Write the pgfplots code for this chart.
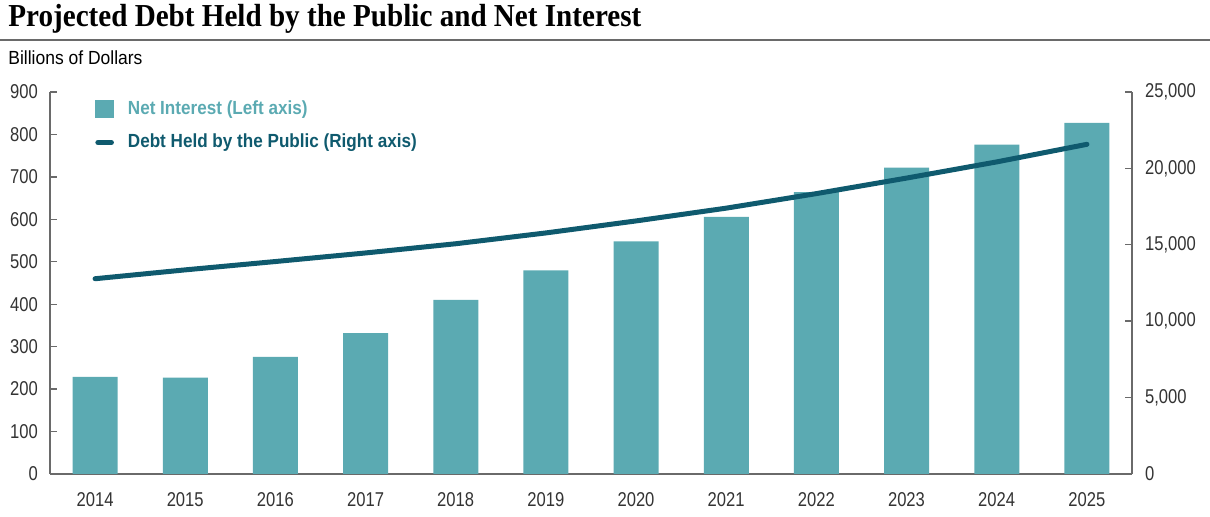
\documentclass[border=0pt]{standalone}
\usepackage{fontspec}
\setmainfont{Liberation Sans}[FakeStretch=0.92]
\newfontfamily\titlefont{Liberation Serif}[FakeStretch=0.91]
\newfontfamily\legfont{Liberation Sans}[FakeStretch=0.9]
\newfontfamily\tickfont{Liberation Sans}[FakeStretch=0.83]
\usepackage{pgfplots}
\pgfplotsset{compat=1.18}
\definecolor{barcol}{HTML}{5BAAB2}
\definecolor{linecol}{HTML}{0F5A6E}
\definecolor{axcol}{HTML}{6A6A6A}
\definecolor{labcol}{HTML}{333333}

\begin{document}
\begin{tikzpicture}
\path[use as bounding box] (0,0) rectangle (605pt,258.5pt);

% title and rule
\node[anchor=base west, inner sep=0pt] at (4pt,245pt)
  {\titlefont\bfseries\fontsize{16}{18}\selectfont Projected Debt Held by the Public and Net Interest};
\draw[axcol, line width=1pt] (0pt,238.3pt) -- (605pt,238.3pt);
\node[anchor=base west, inner sep=0pt, text=black] at (4pt,226pt)
  {\fontsize{9.5}{10}\selectfont Billions of Dollars};

\pgfplotsset{
  every axis/.append style={
    width=541pt, height=191pt, scale only axis,
    at={(25pt,21.5pt)}, anchor=south west,
    xmin=2013.5, xmax=2025.5,
    axis line style={axcol, line width=0.7pt, -},
    tick style={axcol, line width=0.7pt},
    tick align=inside, major tick length=3.6pt,
    tick label style={text=labcol, font=\tickfont\fontsize{10}{10}\selectfont},
    /pgf/number format/assume math mode=true,
  }
}

% left axis: net interest bars
\begin{axis}[
  axis x line*=bottom, axis y line*=left,
  ymin=0, ymax=900, ytick={0,100,...,900},
  xtick={2014,...,2025},
  xticklabel={\pgfmathprintnumber[1000 sep={}]{\tick}},
  xtick style={draw=none},
  xticklabel style={yshift=-5.5pt},
  yticklabel style={xshift=-2.5pt},
]
\addplot[ybar, bar width=22.5pt, fill=barcol, draw=none] coordinates {
  (2014,229) (2015,227) (2016,276) (2017,332) (2018,410) (2019,480)
  (2020,548) (2021,606) (2022,664) (2023,722) (2024,776) (2025,827)
};
\end{axis}

% right axis: debt held by the public
\begin{axis}[
  axis x line=none, axis y line*=right,
  ymin=0, ymax=25000, ytick={0,5000,...,25000},
  scaled y ticks=false,
  yticklabel={\pgfmathprintnumber[1000 sep={,}]{\tick}},
  yticklabel style={xshift=3pt},
  legend cell align=left,
  legend style={draw=none, fill=none, at={(0.036,1.0)}, anchor=north west,
    row sep=4.5pt, column sep=5pt, font=\legfont\bfseries\fontsize{9.5}{10}\selectfont},
]
\addlegendimage{legend image code/.code={\fill[barcol] (0pt,-4.3pt) rectangle (8.8pt,4.3pt);}}
\addlegendentry[text=barcol]{Net Interest (Left axis)}
\addplot[linecol, line width=2.5pt, line cap=round,
  legend image code/.code={\draw[linecol, line width=2.5pt, line cap=round] (1pt,0pt) -- (7.8pt,0pt);}]
  coordinates {
  (2014,12779) (2015,13359) (2016,13905) (2017,14466) (2018,15068) (2019,15776)
  (2020,16562) (2021,17398) (2022,18350) (2023,19366) (2024,20425) (2025,21575)
};
\addlegendentry[text=linecol]{Debt Held by the Public (Right axis)}
\end{axis}
\end{tikzpicture}
\end{document}
